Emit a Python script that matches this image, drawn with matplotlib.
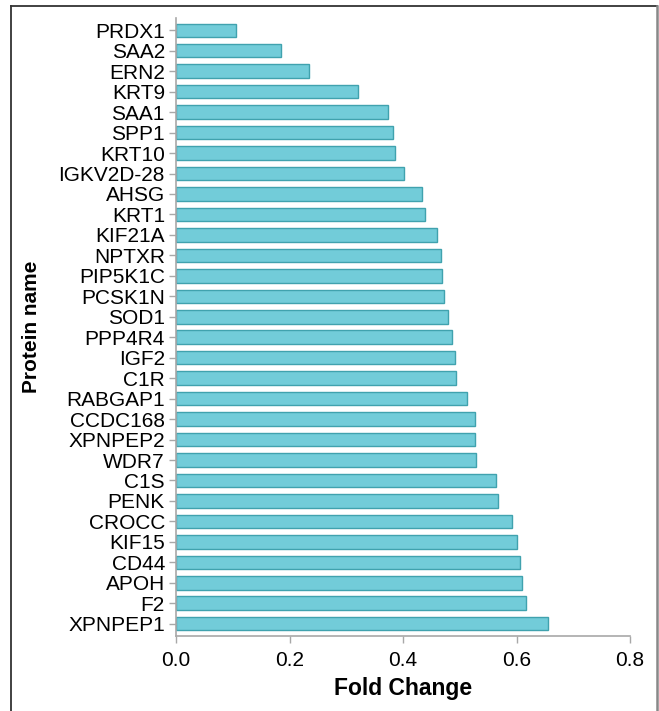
import numpy as np
import matplotlib
matplotlib.use('Agg')
import matplotlib.pyplot as plt
from matplotlib.lines import Line2D

# proteins, top to bottom as drawn
proteins = ['PRDX1', 'SAA2', 'ERN2', 'KRT9', 'SAA1', 'SPP1', 'KRT10', 'IGKV2D-28',
            'AHSG', 'KRT1', 'KIF21A', 'NPTXR', 'PIP5K1C', 'PCSK1N', 'SOD1', 'PPP4R4',
            'IGF2', 'C1R', 'RABGAP1', 'CCDC168', 'XPNPEP2', 'WDR7', 'C1S', 'PENK',
            'CROCC', 'KIF15', 'CD44', 'APOH', 'F2', 'XPNPEP1']
fold_change = [0.105, 0.185, 0.234, 0.320, 0.373, 0.382, 0.386, 0.401,
               0.434, 0.438, 0.460, 0.466, 0.469, 0.473, 0.480, 0.486,
               0.492, 0.494, 0.513, 0.526, 0.527, 0.529, 0.564, 0.568,
               0.592, 0.601, 0.606, 0.609, 0.617, 0.656]
xticks = [0.0, 0.2, 0.4, 0.6, 0.8]

plt.rcParams['font.family'] = ['Liberation Sans', 'DejaVu Sans']

fig = plt.figure(figsize=(6.59, 7.11), dpi=100)
ax = fig.add_axes([0.2671, 0.1055, 0.6890, 0.8692])

pos = np.arange(len(proteins))
ax.barh(pos, fold_change, height=0.66, color='#72CCD9', edgecolor='#40A2AE', linewidth=1.0)

ax.set_ylim(len(proteins) - 1 + 0.6, -0.6)
ax.set_xlim(0, 0.8)
ax.set_yticks(pos)
ax.set_yticklabels(proteins, fontsize=15)
ax.set_xticks(xticks)
ax.set_xticklabels(['{0:.1f}'.format(t) for t in xticks], fontsize=15)

for side in ['top', 'right']:
	ax.spines[side].set_visible(False)
for side in ['left', 'bottom']:
	ax.spines[side].set_color('#a8a8a8')
	ax.spines[side].set_linewidth(1.2)
ax.tick_params(axis='y', length=5, width=1, color='#a8a8a8', pad=3)
ax.tick_params(axis='x', length=5, width=1, color='#a8a8a8', pad=6)

ax.set_xlabel('Fold Change', fontsize=16.5, fontweight='bold')
ax.set_ylabel('Protein name', fontsize=15, fontweight='bold')
ax.xaxis.set_label_coords(0.5, -0.066)
ax.yaxis.set_label_coords(-0.298, 0.5)

# outer frame of the figure panel
fig.add_artist(Line2D([11 / 659, 11 / 659], [0, 1 - 6 / 711], transform=fig.transFigure, color='#333333', lw=1.3))
fig.add_artist(Line2D([11 / 659, 657 / 659], [1 - 6 / 711, 1 - 6 / 711], transform=fig.transFigure, color='#333333', lw=1.3))
fig.add_artist(Line2D([657 / 659, 657 / 659], [0, 1 - 6 / 711], transform=fig.transFigure, color='#888888', lw=1.8))

fig.savefig('out.png', dpi=100)
